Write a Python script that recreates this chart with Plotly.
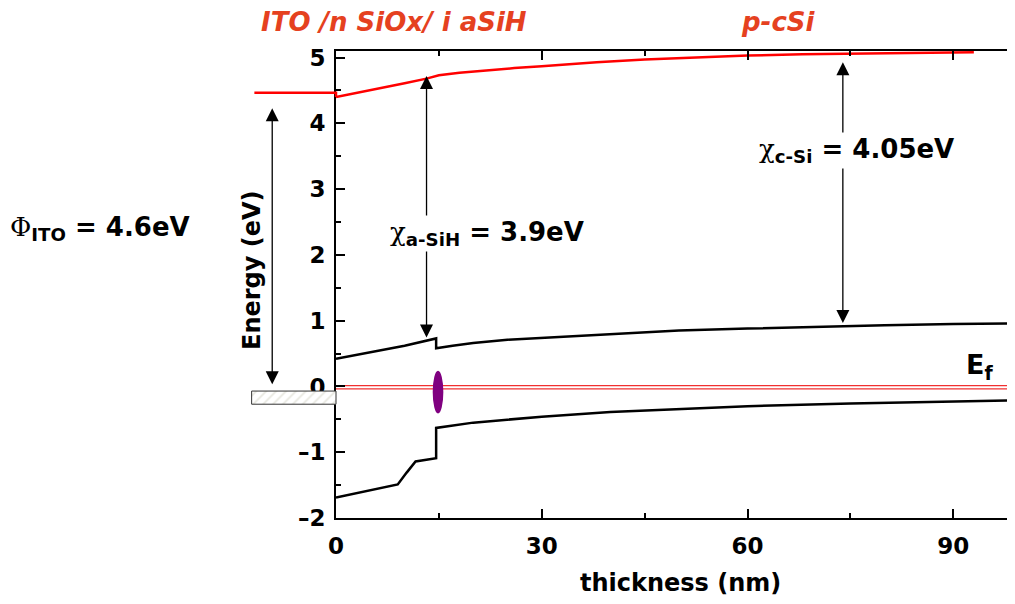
import plotly.graph_objects as go

# ---------------- data ----------------
# vacuum level (red) in the c-Si / a-Si region
vac_x = [0, 5, 10, 13.2, 15, 18, 22, 26, 30, 38, 45, 52, 60, 68, 75, 85, 93]
vac_y = [4.40, 4.50, 4.61, 4.68, 4.73, 4.77, 4.81, 4.84, 4.87, 4.93, 4.97, 5.00, 5.03, 5.05, 5.06, 5.07, 5.08]
# ITO vacuum level (left of the interface)
ito_x = [-11.9, 0, 0]
ito_y = [4.465, 4.465, 4.40]
# conduction band edge
cb_x = [0, 5, 10, 14.6, 14.6, 17, 20, 25, 30, 35, 40, 50, 60, 70, 80, 90, 99]
cb_y = [0.42, 0.52, 0.62, 0.73, 0.58, 0.62, 0.66, 0.71, 0.74, 0.77, 0.80, 0.85, 0.88, 0.91, 0.93, 0.95, 0.96]
# valence band edge
vb_x = [0, 9.0, 10.3, 11.6, 14.6, 14.6, 20, 25, 30, 40, 50, 60, 75, 90, 99]
vb_y = [-1.69, -1.49, -1.31, -1.14, -1.09, -0.63, -0.55, -0.50, -0.46, -0.39, -0.34, -0.30, -0.26, -0.23, -0.21]
# Fermi level (double red line)
ef_x = [0, 99]
ef_upper = [0.014, 0.014]
ef_lower = [-0.036, -0.036]
# ITO contact (hatched block)
box_x = [-12.3, 0, 0, -12.3, -12.3]
box_y = [-0.07, -0.07, -0.27, -0.27, -0.07]
# interface defect ellipse
ell_x = [14.1, 15.65]
ell_y = [-0.41, 0.24]
# arrows: (x, y_start, y_end)
phi_arrow = (-9.3, 0.01, 4.23)
chi_asi_arrow = (13.2, 0.72, 4.72)
chi_csi_arrow = (73.9, 0.94, 4.93)

x_ticks = [0, 30, 60, 90]
y_ticks = [-2, -1, 0, 1, 2, 3, 4, 5]
x_range = [0, 99]
y_range = [-2, 5.1]

# ---------------- layout geometry ----------------
OFF = 8                     # page body margin
W, H = 1015 - OFF, 604 - OFF
ML, MR, MT, MB = 250 - OFF, 0, 51 - OFF, 604 - 518
AX_LEFT = 336 - OFF         # pixel of x = 0
d0 = (AX_LEFT - ML) / (W - ML - MR)
x2min = -x_range[1] * d0 / (1 - d0)

def px(xpix):
    return (xpix - OFF - ML) / (W - ML - MR)

def py(ypix):
    return (H - MB - (ypix - OFF)) / (H - MT - MB)

BOLD = "DejaVu Sans"
RED_T = "#E5411F"

fig = go.Figure()

fig.add_trace(go.Scatter(x=ef_x, y=ef_upper, mode="lines", line=dict(color="#F03030", width=1.3),
                         hoverinfo="skip", showlegend=False))
fig.add_trace(go.Scatter(x=ef_x, y=ef_lower, mode="lines", line=dict(color="#F03030", width=1.3),
                         hoverinfo="skip", showlegend=False))
fig.add_trace(go.Scatter(x=vac_x, y=vac_y, mode="lines", line=dict(color="#FF0000", width=2.5),
                         showlegend=False))
fig.add_trace(go.Scatter(x=cb_x, y=cb_y, mode="lines", line=dict(color="black", width=2.5),
                         showlegend=False))
fig.add_trace(go.Scatter(x=vb_x, y=vb_y, mode="lines", line=dict(color="black", width=2.5),
                         showlegend=False))

# left of the interface (second, invisible subplot with same scale)
fig.add_trace(go.Scatter(x=ito_x, y=ito_y, mode="lines", line=dict(color="#FF0000", width=2.5),
                         xaxis="x2", yaxis="y2", showlegend=False))
fig.add_trace(go.Scatter(x=box_x, y=box_y, mode="lines", fill="toself",
                         fillcolor="white",
                         fillpattern=dict(shape="/", fgcolor="#cfcfc0", bgcolor="white", size=7, solidity=0.25),
                         line=dict(color="#333333", width=1),
                         xaxis="x2", yaxis="y2", showlegend=False))

fig.add_shape(type="circle", xref="x", yref="y", x0=ell_x[0], x1=ell_x[1], y0=ell_y[0], y1=ell_y[1],
              fillcolor="#800080", line=dict(width=0))

def arrow(a, xref, yref):
    x, y0, y1 = a
    return dict(x=x, y=y1, ax=x, ay=y0, xref=xref, yref=yref, axref=xref, ayref=yref,
                text="", showarrow=True, arrowhead=2, startarrowhead=2, arrowside="end+start",
                arrowwidth=1.3, arrowsize=2, startarrowsize=2, arrowcolor="black")

def label(text, x, y, xref, yref, size, color="black", **kw):
    return dict(x=x, y=y, xref=xref, yref=yref, showarrow=False, xanchor="center", yanchor="middle",
                text=text, font=dict(family=BOLD, size=size, weight="bold", color=color), **kw)

CHI = "<span style='font-family:DejaVu Serif;font-weight:normal'>χ</span>"
PHI = "<span style='font-family:DejaVu Serif;font-weight:normal'>Φ</span>"

annotations = [
    arrow(phi_arrow, "x2", "y2"),
    arrow(chi_asi_arrow, "x", "y"),
    arrow(chi_csi_arrow, "x", "y"),
    label(CHI + "<sub>a-SiH</sub> = 3.9eV", px(487), py(234), "paper", "paper", 26, bgcolor="white"),
    label(CHI + "<sub>c-Si</sub> = 4.05eV", px(856), py(151), "paper", "paper", 26, bgcolor="white"),
    label(PHI + "<sub>ITO</sub> = 4.6eV", px(100), py(228), "paper", "paper", 26),
    label("E<sub>f</sub>", px(979), py(366), "paper", "paper", 27),
    label("<i>ITO /n SiOx/ i aSiH</i>", px(394), py(22), "paper", "paper", 26, color=RED_T),
    label("<i>p-cSi</i>", px(778), py(22), "paper", "paper", 26, color=RED_T),
    label("Energy (eV)", px(252), py(270), "paper", "paper", 24, textangle=-90),
    label("thickness (nm)", px(680), py(583), "paper", "paper", 24),
]

tickfont = dict(family=BOLD, size=23, weight="bold", color="black")

fig.update_layout(
    width=W, height=H,
    margin=dict(l=ML, r=MR, t=MT, b=MB),
    paper_bgcolor="white", plot_bgcolor="rgba(0,0,0,0)",
    showlegend=False,
    annotations=annotations,
    xaxis=dict(domain=[d0, 1], range=x_range, tickvals=x_ticks, ticktext=[str(v) for v in x_ticks],
               showline=True, linecolor="black", linewidth=2, mirror="ticks",
               ticks="inside", ticklen=9, tickwidth=2, tickcolor="black",
               minor=dict(dtick=15, tick0=0, ticks="inside", ticklen=5, tickwidth=2, tickcolor="black"),
               showgrid=False, zeroline=False, tickfont=tickfont, ticklabelstandoff=6, anchor="y"),
    yaxis=dict(domain=[0, 1], range=y_range, tickvals=y_ticks,
               ticktext=[("\u2013" + str(-v)) if v < 0 else str(v) for v in y_ticks],
               showline=True, linecolor="black", linewidth=2,
               ticks="inside", ticklen=9, tickwidth=2, tickcolor="black",
               minor=dict(dtick=0.5, tick0=0, ticks="inside", ticklen=5, tickwidth=2, tickcolor="black"),
               showgrid=False, zeroline=False, tickfont=tickfont, ticklabelstandoff=4, anchor="x"),
    xaxis2=dict(domain=[0, 1], range=[x2min, x_range[1]], visible=False, anchor="y2"),
    yaxis2=dict(domain=[0, 1], range=y_range, visible=False, anchor="x2"),
)

fig.write_html("out.html")
